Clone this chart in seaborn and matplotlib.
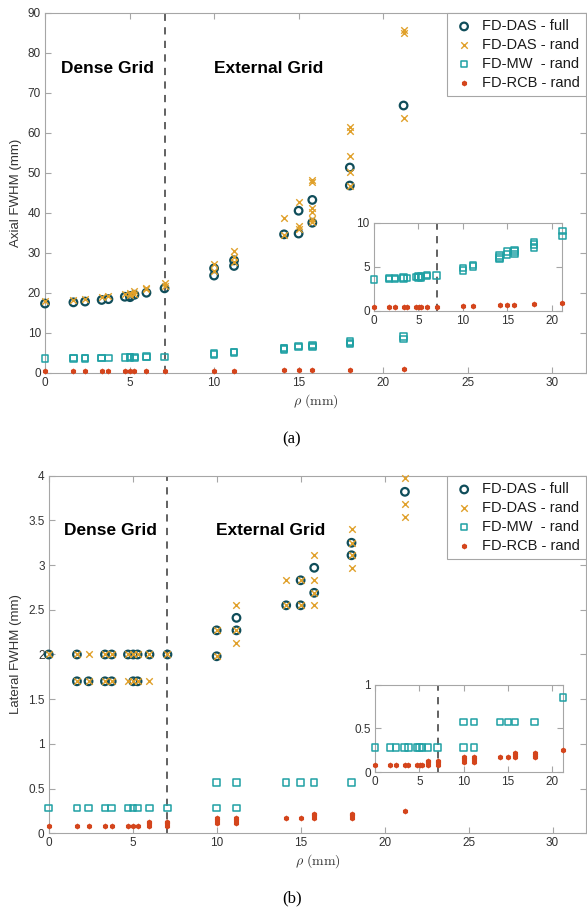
import numpy as np
import pandas as pd
import matplotlib
matplotlib.use("Agg")
import matplotlib.pyplot as plt
import seaborn as sns

# ---------------- data ----------------
rho = [0.0, 1.68, 2.37, 3.35, 3.75, 4.72, 5.03, 5.29, 6.0, 7.07,
       10.0, 11.18, 14.14, 15.0, 15.81, 18.03, 21.21]

# Axial FWHM (mm)
ax_das_full = [[17.3], [17.6], [17.8], [18.2], [18.4], [19.0], [19.2, 18.9], [19.5], [20.0], [21.1],
               [26.1, 24.3], [28.1, 26.7], [34.6], [40.5, 34.8], [43.2, 37.5], [51.3, 46.8], [66.8]]
ax_das_rand = [[17.9], [18.3], [18.5], [18.9], [19.1], [19.7], [20.0, 19.5], [20.4, 19.8], [20.9, 21.3], [21.8, 22.4],
               [27.3, 25.5], [30.4, 29.0, 27.6], [38.6, 34.5], [42.6, 36.7, 36.0],
               [48.2, 47.6, 41.2, 40.1, 38.5, 37.6], [61.5, 60.4, 54.3, 50.1, 46.6], [85.6, 85.0, 63.6]]
ax_mw_rand = [[3.55], [3.6, 3.7], [3.6, 3.7], [3.65, 3.75], [3.7], [3.85], [3.8, 3.9], [3.75, 3.9], [3.95, 4.05], [4.0],
              [4.55, 4.85], [5.05, 5.2], [5.85, 6.05, 6.25], [6.4, 6.7], [6.45, 6.7, 6.9], [7.2, 7.5, 7.8], [8.5, 9.05]]
ax_rcb_rand = [[0.38], [0.38], [0.38], [0.38], [0.38], [0.38], [0.38], [0.38], [0.4], [0.4],
               [0.5], [0.53], [0.6], [0.65], [0.68], [0.76], [0.9]]

# Lateral FWHM (mm)
lat_das_full = [[2.0], [2.0, 1.7], [1.7], [2.0, 1.7], [2.0, 1.7], [2.0], [2.0, 1.7], [2.0, 1.7], [2.0], [2.0],
                [2.27, 1.98], [2.41, 2.27], [2.55], [2.83, 2.55], [2.97, 2.69], [3.25, 3.11], [3.82]]
lat_das_rand = [[2.0], [2.0, 1.7], [2.0, 1.7], [2.0, 1.7], [2.0, 1.7], [2.0, 1.7], [2.0, 1.7], [2.0, 1.7], [2.0, 1.7], [2.0],
                [2.27, 1.98], [2.55, 2.27, 2.13], [2.83, 2.55], [2.83, 2.55], [3.11, 2.83, 2.69, 2.55],
                [3.40, 3.25, 3.11, 2.97], [3.97, 3.68, 3.54]]
lat_mw_rand = [[0.28], [0.28], [0.28], [0.28], [0.28], [0.28], [0.28], [0.28], [0.28], [0.28],
               [0.28, 0.57], [0.28, 0.57], [0.57], [0.57], [0.57], [0.57], [0.85]]
lat_rcb_rand = [[0.08], [0.08], [0.08], [0.08], [0.08], [0.08], [0.08], [0.08], [0.08, 0.11, 0.13], [0.08, 0.11, 0.13],
                [0.12, 0.15, 0.17], [0.12, 0.15, 0.17], [0.17], [0.17], [0.17, 0.2, 0.22], [0.17, 0.2, 0.22], [0.25]]

labels = ["FD-DAS - full", "FD-DAS - rand", "FD-MW  - rand", "FD-RCB - rand"]
boundary = 7.07
xlabel = r"$\rho\ \mathrm{(mm)}$"

# ---------------- style ----------------
sns.set_theme(style="white")
plt.rcParams["font.family"] = ["Liberation Sans", "DejaVu Sans"]
plt.rcParams["mathtext.fontset"] = "cm"

C_FULL = "#0f4d5a"
C_RAND = "#e0a02a"
C_MW = "#1fa1a4"
C_RCB = "#d4451c"
SPINE = "#a6a6a6"
TXT = "#333333"


def flat(vals):
    xs, ys = [], []
    for r, v in zip(rho, vals):
        for y in v:
            xs.append(r)
            ys.append(y)
    return pd.DataFrame({"rho": xs, "val": ys})


def style_axes(ax, fs=8.5):
    for s in ax.spines.values():
        s.set_visible(True)
        s.set_color(SPINE)
        s.set_linewidth(0.8)
    ax.tick_params(direction="in", length=4, width=0.8, color=SPINE,
                   top=True, right=True, bottom=True, left=True,
                   labelsize=fs, labelcolor=TXT, pad=3)
    ax.grid(False)


def draw_series(ax, full, rand, mw, rcb):
    kw = dict(ax=ax, x="rho", y="val", legend=False, clip_on=False)
    if full is not None:
        sns.scatterplot(data=flat(full), marker="o", s=30, facecolor="none",
                        edgecolor=C_FULL, linewidth=1.6, label=labels[0], zorder=3, **kw)
    if rand is not None:
        sns.scatterplot(data=flat(rand), marker="x", s=22, color=C_RAND,
                        linewidth=1.0, label=labels[1], zorder=4, **kw)
    sns.scatterplot(data=flat(mw), marker="s", s=22, facecolor="none",
                    edgecolor=C_MW, linewidth=1.1, label=labels[2], zorder=3, **kw)
    sns.scatterplot(data=flat(rcb), marker="h", s=18, color=C_RCB,
                    linewidth=0, label=labels[3], zorder=4, **kw)


fig = plt.figure(figsize=(5.87, 9.07), dpi=100)

panels = [
    dict(rect=[0.0767, 0.589, 0.9216, 0.397], full=ax_das_full, rand=ax_das_rand,
         mw=ax_mw_rand, rcb=ax_rcb_rand, ylim=(0, 90), yticks=np.arange(0, 91, 10),
         ylabel="Axial FWHM (mm)", text_y=76.0,
         inset=[0.637, 0.6574, 0.321, 0.0971], iylim=(0, 10), iyticks=[0, 5, 10],
         tag="(a)", tag_y=0.507),
    dict(rect=[0.083, 0.0813, 0.9155, 0.3942], full=lat_das_full, rand=lat_das_rand,
         mw=lat_mw_rand, rcb=lat_rcb_rand, ylim=(0, 4), yticks=np.arange(0, 4.01, 0.5),
         ylabel="Lateral FWHM (mm)", text_y=3.39,
         inset=[0.639, 0.1488, 0.3198, 0.0965], iylim=(0, 1), iyticks=[0, 0.5, 1],
         tag="(b)", tag_y=0.001),
]

for p in panels:
    ax = fig.add_axes(p["rect"])
    draw_series(ax, p["full"], p["rand"], p["mw"], p["rcb"])
    ax.axvline(boundary, color="#555555", lw=1.3, ls=(0, (4, 3.5)), zorder=2)
    ax.set_xlim(0, 32)
    ax.set_ylim(*p["ylim"])
    ax.set_xticks([0, 5, 10, 15, 20, 25, 30])
    ax.set_yticks(p["yticks"])
    ax.set_yticklabels([f"{v:g}" for v in p["yticks"]])
    style_axes(ax)
    ax.set_xlabel(xlabel, fontsize=10, color=TXT, labelpad=2)
    ax.set_ylabel(p["ylabel"], fontsize=9.5, color=TXT, labelpad=4)
    ax.text(3.7, p["text_y"], "Dense Grid", fontsize=12.5, fontweight="bold",
            ha="center", va="center", color="black")
    ax.text(13.2, p["text_y"], "External Grid", fontsize=12.5, fontweight="bold",
            ha="center", va="center", color="black")
    leg = ax.legend(loc="upper right", fontsize=10.5, frameon=True, fancybox=False,
                    framealpha=1, edgecolor=SPINE, borderaxespad=0.0,
                    handletextpad=0.5, labelspacing=0.33, handlelength=1.4,
                    borderpad=0.45)
    leg.get_frame().set_linewidth(0.8)
    for t in leg.get_texts():
        t.set_color("#1a1a1a")

    iax = fig.add_axes(p["inset"])
    iax.set_facecolor("white")
    draw_series(iax, None, None, p["mw"], p["rcb"])
    iax.axvline(boundary, color="#555555", lw=1.3, ls=(0, (4, 3.5)), zorder=2)
    iax.set_xlim(0, 21.21)
    iax.set_ylim(*p["iylim"])
    iax.set_xticks([0, 5, 10, 15, 20])
    iax.set_yticks(p["iyticks"])
    iax.set_yticklabels([f"{v:g}" for v in p["iyticks"]])
    style_axes(iax, fs=8.5)
    iax.set_xlabel("")
    iax.set_ylabel("")

    fig.text(0.497, p["tag_y"], p["tag"], fontsize=12, family="Liberation Serif",
             ha="center", va="bottom", color="black")

fig.savefig("out.png", dpi=100)
